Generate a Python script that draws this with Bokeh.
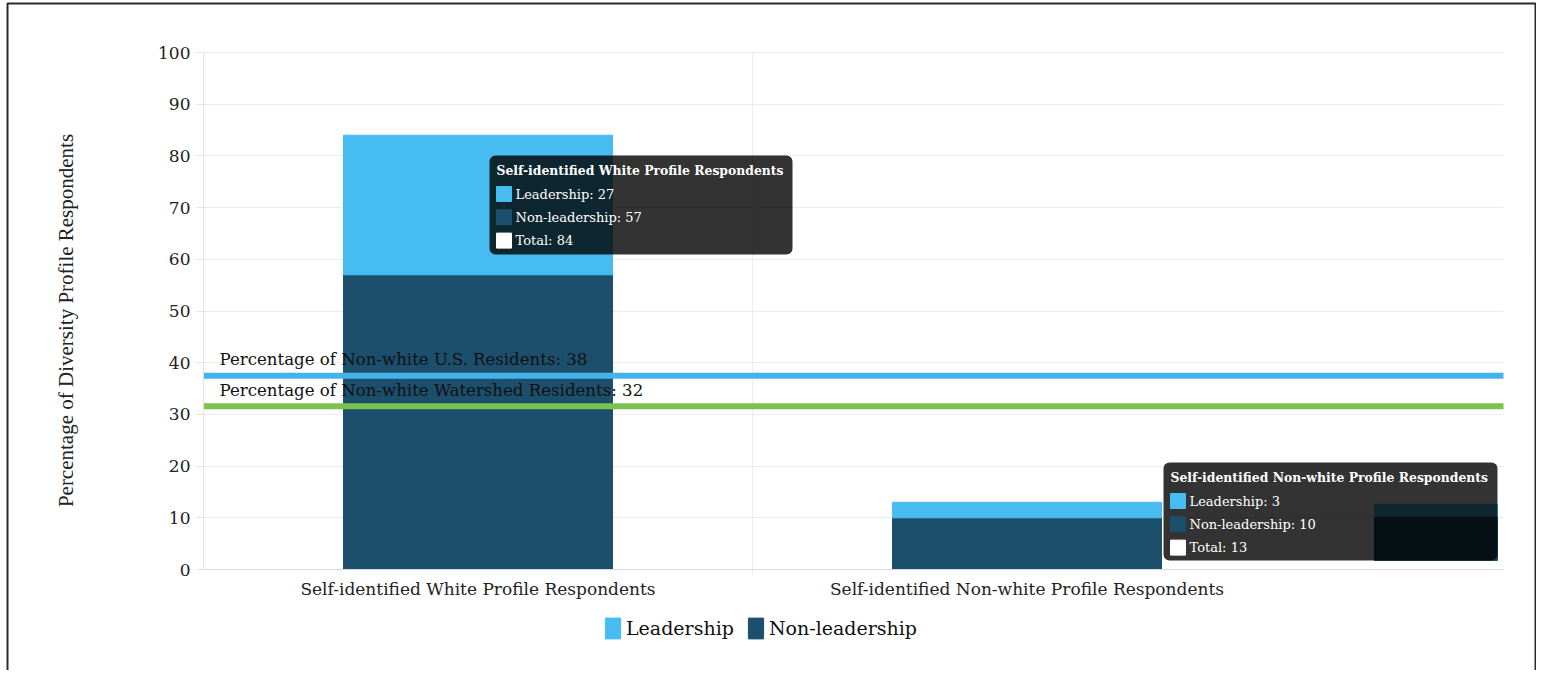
import math
from bokeh.plotting import figure
from bokeh.models import (Range1d, FixedTicker, Label, BoxAnnotation,
                          Legend, LegendItem, ColumnDataSource)
from bokeh.embed import file_html
from bokeh.resources import INLINE

# ---------------- data ----------------
categories = ["Self-identified White Profile Respondents",
              "Self-identified Non-white Profile Respondents"]
series_names = ["Leadership", "Non-leadership"]
leadership = [27, 3]
non_leadership = [57, 10]
ref_labels = ["Percentage of Non-white U.S. Residents",
              "Percentage of Non-white Watershed Residents"]
ref_values = [37.5, 31.6]
y_ticks = [0, 10, 20, 30, 40, 50, 60, 70, 80, 90, 100]
y_title = "Percentage of Diversity Profile Respondents"

# ---------------- layout / style ----------------
C_LEAD = "#47bcf1"
C_NON = "#1b4f6c"
LINE_COLORS = ["#44b3ea", "#7bc24f"]
FONT = "DejaVu Serif"
W, H = 1536, 670
PLOT_L, PLOT_R, PLOT_T, PLOT_B = 203, 1503, 52, 569   # pixel box of the plot area
X_END = 2.368
PX_X = X_END / (PLOT_R - PLOT_L)
PX_Y = 100.0 / (PLOT_B - PLOT_T)


def dx(px):
    return (px - PLOT_L) * PX_X


def dy(py):
    return (PLOT_B - py) * PX_Y


xs = [i + 0.5 for i in range(len(categories))]
src = ColumnDataSource(dict(x=xs, lead=leadership, non=non_leadership))

p = figure(width=W, height=H, output_backend="svg", toolbar_location=None,
           x_range=Range1d(dx(0), dx(W)), y_range=Range1d(dy(H), dy(0)),
           min_border=0)
p.outline_line_color = None
p.background_fill_color = "white"
p.border_fill_color = "white"

# axes (drawn at fixed data positions inside the frame)
p.xaxis.fixed_location = 0
p.xaxis.bounds = (0, X_END)
p.xaxis.ticker = FixedTicker(ticks=xs)
p.xaxis.major_label_overrides = {x: c for x, c in zip(xs, categories)}
p.xaxis.major_tick_line_color = None
p.xaxis.minor_tick_line_color = None
p.xaxis.axis_line_color = "#d9d9d9"
p.xaxis.major_label_text_font = FONT
p.xaxis.major_label_text_font_size = "17px"
p.xaxis.major_label_text_color = "#222222"
p.xaxis.major_label_standoff = 3

p.yaxis.fixed_location = 0
p.yaxis.bounds = (0, 100)
p.yaxis.ticker = FixedTicker(ticks=y_ticks)
p.yaxis.minor_tick_line_color = None
p.yaxis.major_tick_in = 0
p.yaxis.major_tick_out = 7
p.yaxis.major_tick_line_color = "#e3e3e3"
p.yaxis.axis_line_color = "#e3e3e3"
p.yaxis.major_label_text_font = FONT
p.yaxis.major_label_text_font_size = "17px"
p.yaxis.major_label_text_color = "#222222"
p.yaxis.major_label_standoff = 6

p.xgrid.ticker = FixedTicker(ticks=[1])
p.xgrid.cross_bounds = (dy(575), 100)
p.xgrid.grid_line_color = "#ececec"
p.ygrid.ticker = FixedTicker(ticks=y_ticks)
p.ygrid.cross_bounds = (0, X_END)
p.ygrid.grid_line_color = "#ececec"

# y axis title
p.add_layout(Label(x=dx(65), y=dy(320), text=y_title, angle=math.pi / 2,
                   text_font="Liberation Serif", text_font_size="21px",
                   text_color="#222222", text_align="center",
                   text_baseline="middle"))

# bars
rs = p.vbar_stack(["non", "lead"], x="x", width=0.49, color=[C_NON, C_LEAD],
                  source=src)
r_non, r_lead = rs

# reference lines
for lab, val, col in zip(ref_labels, ref_values, LINE_COLORS):
    p.segment(x0=[0], x1=[X_END], y0=[val], y1=[val], line_color=col,
              line_width=6, line_cap="butt")
    p.add_layout(Label(x=0, y=val, x_offset=16, y_offset=16,
                       text=f"{lab}: {round(val)}", text_font=FONT,
                       text_font_size="16.6px", text_color="#111111",
                       text_baseline="alphabetic"))

# tooltip boxes (pixel boxes converted to data space)
tt = [
    dict(i=0, left=dx(489), right=dx(792), top=dy(155), bottom=dy(254)),
    dict(i=1, left=dx(1163), right=dx(1497), top=dy(462), bottom=dy(560)),
]

# ghost bar image visible under second tooltip
g = tt[1]
g_left = dx(1374)
tot2 = leadership[1] + non_leadership[1]
p.quad(left=[g_left], right=[g["right"]], top=[tot2 - 0.4],
       bottom=[non_leadership[1] + 0.1], color=C_LEAD)
p.quad(left=[g_left], right=[g["right"]], top=[non_leadership[1] + 0.1],
       bottom=[g["bottom"]], color=C_NON)

for t in tt:
    p.add_layout(BoxAnnotation(left=t["left"], right=t["right"], top=t["top"],
                               bottom=t["bottom"], fill_color="black",
                               fill_alpha=0.8, line_alpha=0, border_radius=6,
                               level="annotation"))
for t in tt:
    i = t["i"]
    left = t["left"]
    top = t["top"]
    p.add_layout(Label(x=left, y=top, x_offset=7, y_offset=-15,
                       text=categories[i], text_font=FONT,
                       text_font_style="bold", text_font_size="12.4px",
                       text_color="white", text_baseline="middle",
                       level="overlay"))
    rows = [(f"{series_names[0]}: {leadership[i]}", C_LEAD),
            (f"{series_names[1]}: {non_leadership[i]}", C_NON),
            (f"Total: {leadership[i] + non_leadership[i]}", "white")]
    for k, (txt, col) in enumerate(rows):
        sw_top = top - (31 + 23.3 * k) * PX_Y
        p.quad(left=[left + 7 * PX_X], right=[left + 22 * PX_X],
               top=[sw_top], bottom=[sw_top - 15 * PX_Y], color=col,
               level="overlay")
        p.add_layout(Label(x=left, y=top, x_offset=26,
                           y_offset=-(38.5 + 23.3 * k),
                           text=txt, text_font=FONT, text_font_size="13px",
                           text_color="white", text_baseline="middle",
                           level="overlay"))

# legend
legend = Legend(items=[LegendItem(label=series_names[0], renderers=[r_lead]),
                       LegendItem(label=series_names[1], renderers=[r_non])],
                orientation="horizontal", location=(603, H - 641),
                border_line_color=None, background_fill_alpha=0,
                padding=0, margin=0, spacing=12, label_standoff=4,
                glyph_width=19, glyph_height=26,
                label_text_font=FONT, label_text_font_size="19px",
                label_text_color="#111111")
p.add_layout(legend, "center")

# outer frame of the picture
p.add_layout(BoxAnnotation(left=dx(7), right=dx(W - 1), top=dy(3),
                           bottom=dy(H + 20), fill_alpha=0,
                           line_color="#2a2a2a", line_alpha=1.0, line_width=2,
                           level="overlay"))

open("out.html", "w").write(file_html(p, INLINE))
